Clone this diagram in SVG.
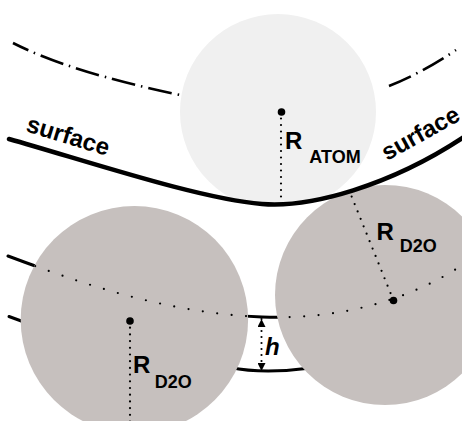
<svg xmlns="http://www.w3.org/2000/svg" width="462" height="421" viewBox="0 0 462 421">
<style>
.lbl{font-family:"Liberation Sans",Arial,sans-serif;font-weight:bold;fill:#000}
.big{font-size:24px}
.sub{font-size:18px}
.solid{fill:none;stroke:#000;stroke-linecap:round}
.dots{fill:none;stroke:#000;stroke-width:2.2;stroke-linecap:round}
.dash{fill:none;stroke:#000;stroke-width:2.6;stroke-dasharray:24 6 1.5 6}
.dark{fill:#c6c0be}
</style>
<defs>
<clipPath id="aboveSurface"><path d="M0,0 L464,0 L464,137 C390,186 310,208 262,204 C200,199 90,162 9,139 L0,139 Z"/></clipPath>
<clipPath id="inCircles"><circle cx="134.4" cy="319.7" r="113.7"/><circle cx="385" cy="295" r="110"/></clipPath>
<marker id="arr" markerWidth="8" markerHeight="8" refX="8" refY="4" orient="auto-start-reverse" markerUnits="userSpaceOnUse"><path d="M0,0 L8,4 L0,8 Z" fill="#000"/></marker>
</defs>

<g id="dashed-surface">
<path class="dash" d="M13,43 Q70,72 180,95" stroke-dashoffset="7"/>
<path class="dash" d="M389,86 Q420,74 456,50"/>
</g>

<g id="atom">
<circle cx="278" cy="112" r="98" fill="#f0f0f0" clip-path="url(#aboveSurface)"/>
</g>

<g id="connectors-back">
<path class="solid" stroke-width="3" d="M8,256 C80,283 165,313 262,317 C340,320 410,300 464,264"/>
<path class="solid" stroke-width="3" d="M9,316.5 L24,322"/>
<path class="solid" stroke-width="3" d="M230,367.5 Q262,374 306,368.5"/>
</g>

<g id="d2o-left">
<circle class="dark" cx="134.4" cy="319.7" r="113.7"/>
</g>
<g id="d2o-right">
<circle class="dark" cx="385" cy="295" r="110"/>
</g>

<g id="surface">
<path class="solid" stroke-width="4.5" d="M9,139 C90,162 200,199 262,204 C310,208 390,186 464,137"/>
<text class="lbl big" x="25" y="131" transform="rotate(17 25 131)">surface</text>
<text class="lbl big" x="387" y="161" transform="rotate(-29 387 161)">surface</text>
</g>

<g id="connectors">
<path class="dots" stroke-dasharray="0 14.5" clip-path="url(#inCircles)" d="M8,256 C80,283 165,313 262,317 C340,320 410,300 464,264"/>
<line class="dots" stroke-dasharray="0 6.5" x1="281" y1="112" x2="281" y2="201"/>
<line class="dots" stroke-dasharray="0 6.7" x1="130" y1="321" x2="130" y2="425"/>
<line class="dots" stroke-dasharray="0 8" x1="393.5" y1="300.5" x2="349" y2="190"/>
<line class="dots" stroke-dasharray="0 6" x1="261.5" y1="319" x2="261.5" y2="371" marker-start="url(#arr)" marker-end="url(#arr)"/>
</g>

<g id="centers">
<circle cx="281.5" cy="112" r="3.8"/>
<circle cx="130" cy="321" r="3.8"/>
<circle cx="393.5" cy="300.5" r="3.8"/>
</g>

<g id="labels">
<text class="lbl" x="285" y="149"><tspan class="big">R</tspan><tspan class="sub" dx="7" dy="14">ATOM</tspan></text>
<text class="lbl" x="133" y="373"><tspan class="big">R</tspan><tspan class="sub" dx="4.5" dy="15">D2O</tspan></text>
<text class="lbl" x="376.5" y="240"><tspan class="big">R</tspan><tspan class="sub" dx="6" dy="12">D2O</tspan></text>
<text class="lbl big" x="265" y="355" font-style="italic">h</text>
</g>
</svg>
